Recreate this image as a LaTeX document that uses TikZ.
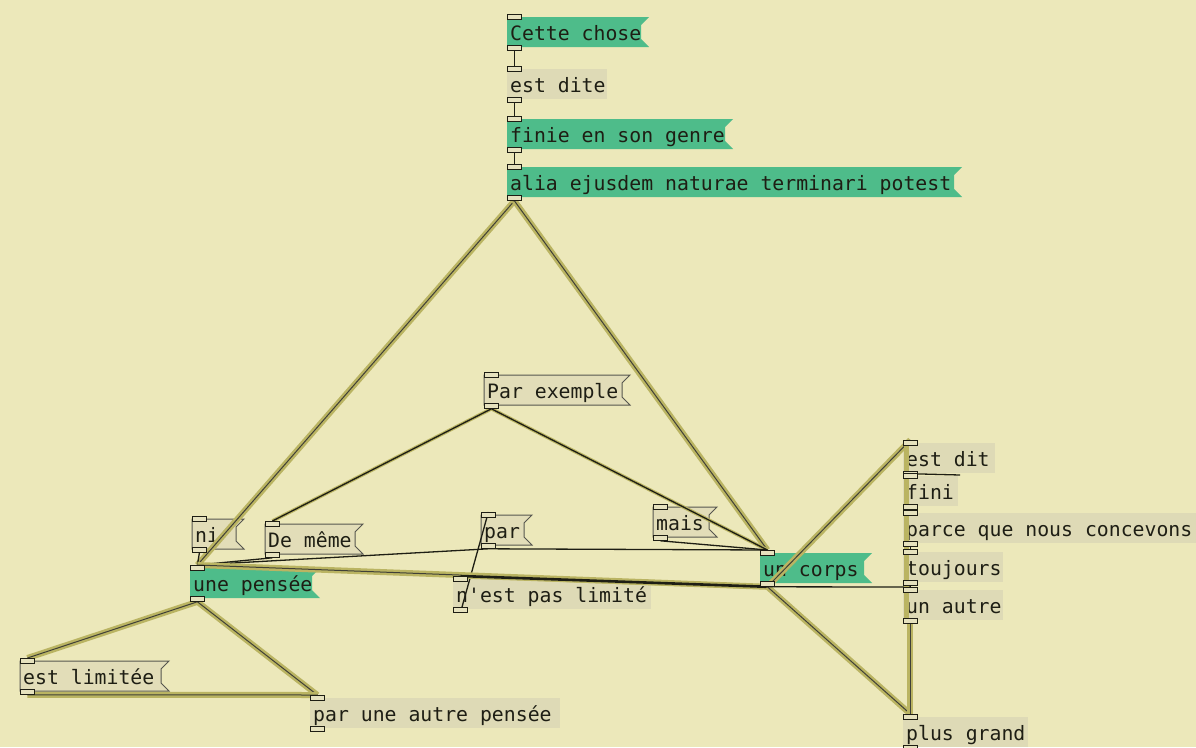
\documentclass[tikz,border=0pt]{standalone}
\usepackage{fontspec}
\setmonofont{DejaVu Sans Mono}
\usetikzlibrary{calc}
\definecolor{canvas}{RGB}{236,232,186}
\definecolor{objbg}{RGB}{222,218,182}
\definecolor{msgbg}{RGB}{226,221,184}
\definecolor{pdgreen}{RGB}{78,188,138}
\definecolor{olive}{RGB}{186,180,98}
\definecolor{ink}{RGB}{30,30,20}
\definecolor{iofill}{RGB}{230,226,190}
\tikzset{
  pdtext/.style={anchor=north west, inner xsep=3pt, inner ysep=0pt, minimum height=30pt,
    text height=18pt, text depth=2pt, text=ink,
    font=\ttfamily\fontsize{19.8}{22}\selectfont},
  pdio/.style={anchor=north west, draw=ink, line width=0.8pt, fill=iofill, inner sep=0pt,
    minimum width=14pt, minimum height=5pt},
  greenflag/.style={fill=pdgreen},
  msgflag/.style={fill=msgbg, draw=ink!75, line width=1pt},
  ctl/.style={draw=ink, line width=1.3pt},
  ctlglow/.style={draw=ink, line width=1.3pt, preaction={draw=olive, line width=3.5pt}},
  sig/.style={draw=ink!85, line width=1pt, preaction={draw=olive, line width=6pt}},
  sigdark/.style={draw=ink, line width=2.6pt, preaction={draw=olive, line width=5pt}},
  band/.style={draw=olive, line width=5pt},
}
% flag-shaped box (message box): name, x, y, width, fill style, text
\newcommand\pdmsg[6]{%
  \path[#5] (#2,#3) -- ++(#4+8,0) -- ++(-8,8) -- ++(0,14) -- ++(8,8) -- ++(-#4-8,0) -- cycle;
  \pgfmathsetmacro\pdtw{#4-6}%
  \node[pdtext] (#1) at (#2,#3) {\makebox[\pdtw pt][l]{#6}};
  \node[pdio] (#1-i) at (#2,#3-3) {};
  \node[pdio] (#1-o) at (#2,#3+28) {};
}
% plain box: name, x, y, width, text
\newcommand\pdobj[5]{%
  \pgfmathsetmacro\pdtw{#4-6}%
  \node[pdtext, fill=objbg] (#1) at (#2,#3) {\makebox[\pdtw pt][l]{#5}};
  \node[pdio] (#1-i) at (#2,#3-3) {};
  \node[pdio] (#1-o) at (#2,#3+28) {};
}
\begin{document}
\begin{tikzpicture}[x=1pt,y=-1pt]
\fill[canvas] (0,0) rectangle (1196,747);
\useasboundingbox (0,0) rectangle (1196,747);

% top column
\pdmsg{cette}{507}{17}{134}{greenflag}{Cette chose}
\pdobj{dite}{507}{69}{100}{est dite}
\pdmsg{finie}{507}{119}{218}{greenflag}{finie en son genre}
\pdmsg{alia}{507}{167}{447}{greenflag}{alia ejusdem naturae terminari potest}

% middle
\pdmsg{parex}{484}{375}{138}{msgflag}{Par exemple}
\pdmsg{ni}{192}{519}{44}{msgflag}{ni}
\pdmsg{demem}{265}{524}{90}{msgflag}{De même}
\pdmsg{par}{481}{515}{43}{msgflag}{par}
\pdmsg{mais}{653}{507}{56}{msgflag}{mais}
\pdmsg{corps}{760}{553}{104}{greenflag}{un corps}
\pdmsg{pensee}{190}{568}{122}{greenflag}{une pensée}
\pdobj{nest}{453}{579}{198}{n\textquotesingle est pas limité}

% bottom left
\pdmsg{estlim}{20}{661}{141}{msgflag}{est limitée}
\pdobj{parune}{310}{698}{250}{par une autre pensée}

% right column
\pdobj{estdit}{903}{443}{92}{est dit}
\pdobj{fini}{903}{476}{55}{fini}
\pdobj{parce}{903}{513}{293}{parce que nous concevons}
\pdobj{toujours}{903}{552}{100}{toujours}
\pdobj{unautre}{903}{590}{100}{un autre}
\pdobj{plusgrand}{903}{717}{125}{plus grand}
\coordinate (estdit-x) at (960,475);

% connections
\draw[ctl] (cette-o.south) -- (dite-i.north);
\draw[ctl] (dite-o.south) -- (finie-i.north);
\draw[ctl] (finie-o.south) -- (alia-i.north);
\draw[sig] (alia-o.south) -- (pensee-i.north);
\draw[sig] (alia-o.south) -- (corps-i.north);
\draw[ctlglow] (parex-o.south) -- (demem-i.north);
\draw[ctlglow] (parex-o.south) -- (corps-i.north);
\draw[ctl] (ni-o.south) -- (pensee-i.north);
\draw[ctl] (demem-o.south) -- (pensee-i.north);
\draw[ctl] (par-o.south) -- (pensee-i.north);
\draw[ctl] (par-o.south) -- (corps-i.north);
\draw[ctl] (mais-o.south) -- (corps-i.north);
\draw[ctl] (nest-o.south) -- (par-i.north);
\draw[sig] (corps-o.south) -- (pensee-i.north);
\draw[sigdark] (corps-o.south) -- (nest-i.north);
\draw[sig] (corps-o.south) -- (estdit-i.north);
\draw[sig] (corps-o.south) -- (plusgrand-i.north);
\draw[ctl] (corps-o.south) -- (unautre-i.north);
\draw[sig] (pensee-o.south) -- (estlim-i.north);
\draw[sig] (pensee-o.south) -- (parune-i.north);
\draw[sig] (estlim-o.south) -- (parune-i.north);
\draw[band] ([xshift=-4pt]estdit-i.north) -- ([xshift=-4pt]unautre-o.south);
\draw[ctl] (estdit-o.south) -- (fini-i.north);
\draw[ctl] (fini-o.south) -- (parce-i.north);
\draw[ctl] (parce-o.south) -- (toujours-i.north);
\draw[ctl] (toujours-o.south) -- (unautre-i.north);
\draw[sig] (unautre-o.south) -- (plusgrand-i.north);
\draw[ctl] (estdit-o.east) -- (estdit-x);

% redraw inlets/outlets on top of the connections
\foreach \n in {cette,dite,finie,alia,parex,ni,demem,par,mais,corps,pensee,nest,estlim,parune,estdit,fini,parce,toujours,unautre,plusgrand}{
  \draw[draw=ink, line width=0.8pt, fill=iofill] (\n-i.north west) rectangle (\n-i.south east);
  \draw[draw=ink, line width=0.8pt, fill=iofill] (\n-o.north west) rectangle (\n-o.south east);
}
\end{tikzpicture}
\end{document}
